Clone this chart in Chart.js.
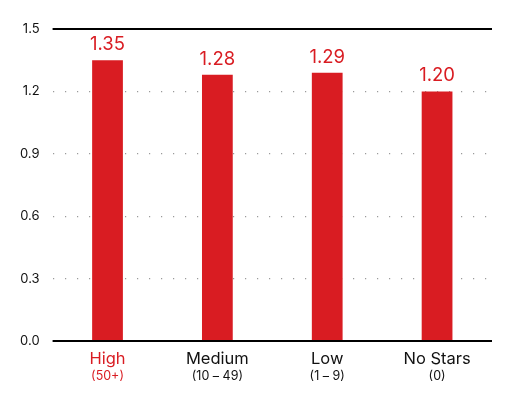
<!DOCTYPE html>
<html>
<head>
<meta charset="utf-8">
<script src="https://cdn.jsdelivr.net/npm/chart.js@4/dist/chart.umd.min.js"></script>
<style>
  html, body { margin: 0; padding: 0; background: #fff; }
  #wrap { width: 512px; height: 402px; }
</style>
</head>
<body>
<div id="wrap"><canvas id="chart"></canvas></div>
<script>
const categories = ["High", "Medium", "Low", "No Stars"];
const subLabels = ["(50+)", "(10 \u2013 49)", "(1 \u2013 9)", "(0)"];
const values = [1.35, 1.28, 1.29, 1.20];
const yTicks = [0, 0.3, 0.6, 0.9, 1.2, 1.5];

const RED = "#d91c22";
const FONT = "Inter, 'Open Sans', sans-serif";

// value labels above bars, sub labels under the category ticks, solid lines at 0 and 1.5
const extras = {
  id: "extras",
  afterDatasetsDraw(chart) {
    const ctx = chart.ctx;
    const meta = chart.getDatasetMeta(0);
    const y = chart.scales.y, x = chart.scales.x;
    ctx.save();
    ctx.strokeStyle = "#000";
    ctx.lineWidth = 2;
    [yTicks[0], yTicks[yTicks.length - 1]].forEach(v => {
      const py = Math.round(y.getPixelForValue(v));
      ctx.beginPath();
      ctx.moveTo(chart.chartArea.left, py);
      ctx.lineTo(chart.chartArea.right, py);
      ctx.stroke();
    });
    ctx.fillStyle = RED;
    ctx.font = "18.5px " + FONT;
    ctx.textAlign = "center";
    ctx.textBaseline = "alphabetic";
    meta.data.forEach((bar, i) => {
      ctx.fillText(values[i].toFixed(2), bar.x, bar.y - 10);
    });
    ctx.font = "12.5px " + FONT;
    ctx.textBaseline = "middle";
    subLabels.forEach((s, i) => {
      ctx.fillStyle = i === 0 ? RED : "#111";
      ctx.fillText(s, x.getPixelForValue(i), chart.chartArea.bottom + 35);
    });
    ctx.restore();
  }
};

new Chart(document.getElementById("chart"), {
  type: "bar",
  data: {
    labels: categories,
    datasets: [{
      data: values,
      backgroundColor: RED,
      borderWidth: 0,
      barPercentage: 0.56,
      categoryPercentage: 0.5
    }]
  },
  options: {
    responsive: true,
    maintainAspectRatio: false,
    animation: false,
    layout: { padding: { top: 29, right: 20, bottom: 33, left: 7 } },
    plugins: {
      legend: { display: false },
      tooltip: { enabled: false }
    },
    scales: {
      x: {
        grid: { display: false },
        border: { display: false },
        ticks: {
          padding: 0,
          font: { family: FONT, size: 16.5 },
          color: c => c.index === 0 ? RED : "#111"
        }
      },
      y: {
        min: 0,
        max: 1.5,
        afterBuildTicks: axis => { axis.ticks = yTicks.map(v => ({ value: v })); },
        grid: {
          drawTicks: false,
          color: c => (c.tick && (c.tick.value === 0 || c.tick.value === 1.5)) ? "rgba(0,0,0,0)" : "#9a9a9a",
          lineWidth: 1.2
        },
        border: { display: false, dash: [1.2, 10.8] },
        ticks: {
          padding: 13,
          font: { family: FONT, size: 13 },
          color: "#111",
          callback: v => v.toFixed(1)
        }
      }
    }
  },
  plugins: [extras]
});
</script>
</body>
</html>
